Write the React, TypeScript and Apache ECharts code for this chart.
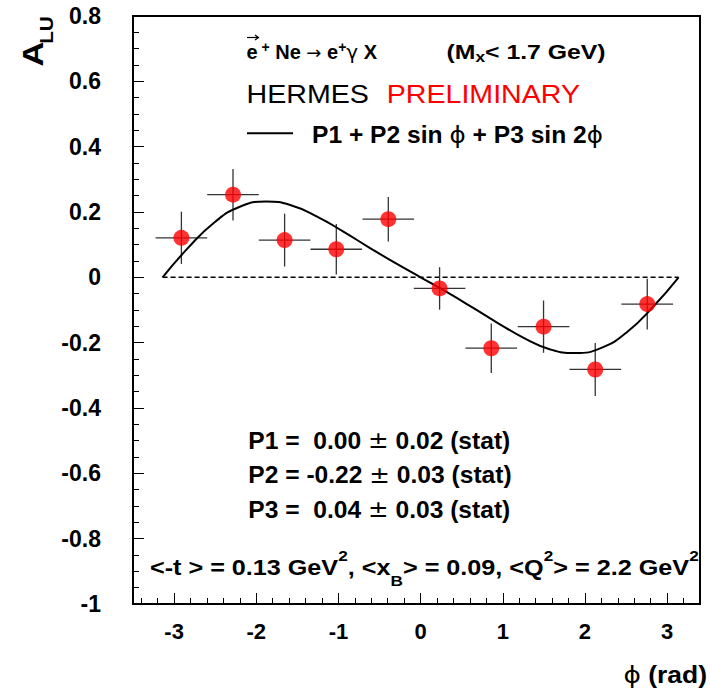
import React, { useEffect, useRef } from 'react';
import * as echarts from 'echarts';

// measured data points (phi in rad, A_LU)
const phiPoints = [-2.911, -2.283, -1.655, -1.026, -0.393, 0.231, 0.86, 1.496, 2.125, 2.758];
const aluPoints = [0.121, 0.253, 0.114, 0.086, 0.178, -0.034, -0.217, -0.151, -0.282, -0.082];
const phiErrors = [0.314, 0.314, 0.314, 0.314, 0.314, 0.314, 0.314, 0.314, 0.314, 0.314];
const aluErrors = [0.08, 0.079, 0.081, 0.077, 0.068, 0.065, 0.076, 0.08, 0.081, 0.078];

// fit curve
const curvePhi = [-3.14, -2.83, -2.51, -2.2, -1.88, -1.57, -1.26, -0.94, -0.63, -0.31, 0, 0.31, 0.63, 0.94, 1.26, 1.57, 1.88, 2.2, 2.51, 2.83, 3.14];
const curveAlu = [0.0, 0.09, 0.168, 0.216, 0.232, 0.22, 0.186, 0.14, 0.092, 0.044, 0, -0.044, -0.092, -0.14, -0.186, -0.22, -0.232, -0.216, -0.168, -0.09, 0.0];

// dashed zero line
const zeroPhi = [-3.14, 3.14];
const zeroAlu = [0, 0];

// axis ticks
const xMajorTicks = [-3, -2, -1, 0, 1, 2, 3];
const xMinorTicks = [-3.4, -3.2, -2.8, -2.6, -2.4, -2.2, -1.8, -1.6, -1.4, -1.2, -0.8, -0.6, -0.4, -0.2, 0.2, 0.4, 0.6, 0.8, 1.2, 1.4, 1.6, 1.8, 2.2, 2.4, 2.6, 2.8, 3.2, 3.4];

const FONT = '"Liberation Sans", Arial, Helvetica, sans-serif';
const SYM = '"DejaVu Sans", "Liberation Sans", sans-serif';

function txt(text: string, x: number, y: number, opts: any = {}) {
  return {
    type: 'text',
    x,
    y,
    scaleX: opts.scaleX ?? 1,
    rotation: opts.rotation ?? 0,
    z: 100,
    style: {
      text,
      fontSize: opts.fontSize ?? 20,
      fontWeight: opts.fontWeight ?? 'bold',
      fontFamily: opts.fontFamily ?? FONT,
      fill: opts.fill ?? '#000',
      align: opts.align ?? 'left',
      verticalAlign: 'middle',
      rich: opts.rich,
    },
  };
}

export default function App() {
  const ref = useRef<HTMLDivElement>(null);

  useEffect(() => {
    if (!ref.current) return;
    const chart = echarts.init(ref.current, undefined, { renderer: 'svg' });

    const pointData = phiPoints.map((p, i) => [p, aluPoints[i]]);
    const errData = phiPoints.map((p, i) => [p, aluPoints[i], phiErrors[i], aluErrors[i]]);
    const curveData = curvePhi.map((p, i) => [p, curveAlu[i]]);
    const zeroData = zeroPhi.map((p, i) => [p, zeroAlu[i]]);

    const mainRich = {
      m: { fontSize: 22, fontWeight: 'bold', fontFamily: FONT, lineHeight: 40, fill: '#000' },
      p: { fontSize: 15, fontWeight: 'bold', fontFamily: FONT, lineHeight: 22, verticalAlign: 'top', fill: '#000' },
      s: { fontSize: 15, fontWeight: 'bold', fontFamily: FONT, lineHeight: 12, verticalAlign: 'bottom', fill: '#000' },
    };
    const titleRich = {
      m: { fontSize: 20, fontWeight: 'bold', fontFamily: FONT, lineHeight: 24, fill: '#000' },
      p: { fontSize: 14, fontWeight: 'bold', fontFamily: FONT, lineHeight: 10, verticalAlign: 'top', fill: '#000' },
      s: { fontSize: 14, fontWeight: 'bold', fontFamily: FONT, lineHeight: 6, verticalAlign: 'bottom', fill: '#000' },
      a: { fontSize: 18, fontWeight: 'normal', fontFamily: SYM, lineHeight: 24, fill: '#000' },
      g: { fontSize: 20, fontWeight: 'normal', fontFamily: SYM, lineHeight: 24, fill: '#000' },
    };
    const statRich = {
      m: { fontSize: 23, fontWeight: 'bold', fontFamily: FONT, fill: '#000' },
      pm: { fontSize: 23, fontWeight: 'normal', fontFamily: SYM, fill: '#000' },
    };
    const legRich = {
      m: { fontSize: 23, fontWeight: 'bold', fontFamily: FONT, fill: '#000' },
      f: { fontSize: 23, fontWeight: 'normal', fontFamily: SYM, fill: '#000' },
    };

    const option: any = {
      animation: false,
      grid: {
        left: 133,
        top: 16,
        width: 567,
        height: 588,
        show: true,
        borderColor: '#000',
        borderWidth: 2,
        containLabel: false,
      },
      xAxis: [
        {
          type: 'value',
          min: -3.5,
          max: 3.4,
          position: 'bottom',
          axisLine: { show: true, onZero: false, lineStyle: { color: '#000', width: 2 } },
          axisTick: { show: true, inside: true, length: 11, customValues: xMajorTicks, lineStyle: { color: '#000', width: 1 } },
          axisLabel: {
            show: true,
            customValues: xMajorTicks,
            margin: 16,
            fontSize: 22,
            fontWeight: 'bold',
            fontFamily: FONT,
            color: '#000',
          },
          splitLine: { show: false },
        },
        {
          type: 'value',
          min: -3.5,
          max: 3.4,
          position: 'bottom',
          axisLine: { show: false, onZero: false },
          axisTick: { show: true, inside: true, length: 6, customValues: xMinorTicks, lineStyle: { color: '#000', width: 1 } },
          axisLabel: { show: false },
          splitLine: { show: false },
        },
      ],
      yAxis: {
        type: 'value',
        min: -1,
        max: 0.8,
        interval: 0.2,
        axisLine: { show: true, onZero: false, lineStyle: { color: '#000', width: 2 } },
        axisTick: { show: true, inside: true, length: 11, lineStyle: { color: '#000', width: 1 } },
        minorTick: { show: true, splitNumber: 4, length: 6, lineStyle: { color: '#000', width: 1 } },
        axisLabel: {
          margin: 32,
          fontSize: 23,
          fontWeight: 'bold',
          fontFamily: FONT,
          color: '#000',
        },
        splitLine: { show: false },
        minorSplitLine: { show: false },
      },
      series: [
        {
          type: 'line',
          xAxisIndex: 0,
          data: zeroData,
          symbol: 'none',
          lineStyle: { color: '#000', width: 1.5, type: [5, 3] },
          z: 2,
        },
        {
          type: 'custom',
          xAxisIndex: 0,
          data: errData,
          z: 3,
          renderItem: (params: any, api: any) => {
            const x = api.value(0);
            const y = api.value(1);
            const ex = api.value(2);
            const ey = api.value(3);
            const l = api.coord([x - ex, y]);
            const r = api.coord([x + ex, y]);
            const t = api.coord([x, y + ey]);
            const b = api.coord([x, y - ey]);
            const st = { stroke: '#333', lineWidth: 1.3 };
            return {
              type: 'group',
              children: [
                { type: 'line', shape: { x1: l[0], y1: l[1], x2: r[0], y2: r[1] }, style: st },
                { type: 'line', shape: { x1: t[0], y1: t[1], x2: b[0], y2: b[1] }, style: st },
              ],
            };
          },
        },
        {
          type: 'line',
          xAxisIndex: 0,
          data: curveData,
          smooth: true,
          symbol: 'none',
          lineStyle: { color: '#000', width: 2 },
          z: 4,
        },
        {
          type: 'scatter',
          xAxisIndex: 0,
          data: pointData,
          symbol: 'circle',
          symbolSize: 16,
          itemStyle: { color: '#ff0000' },
          z: 5,
        },
      ],
      graphic: [
        // y axis title
        txt('A', 32.5, 54, { fontSize: 30, rotation: Math.PI / 2, align: 'center', scaleX: 1.15 }),
        txt('LU', 47, 30, { fontSize: 18, rotation: Math.PI / 2, align: 'center', scaleX: 1.15 }),
        // x axis title
        txt('{f|ϕ}{m| (rad)}', 707, 675, {
          align: 'right',
          scaleX: 1.15,
          rich: {
            m: { fontSize: 23, fontWeight: 'bold', fontFamily: FONT, fill: '#000' },
            f: { fontSize: 23, fontWeight: 'normal', fontFamily: SYM, fill: '#000' },
          },
        }),
        // title line
        { type: 'line', z: 100, shape: { x1: 247, y1: 37.5, x2: 258.5, y2: 37.5 }, style: { stroke: '#000', lineWidth: 1.2 } },
        { type: 'polyline', z: 100, shape: { points: [[255, 35], [258.5, 37.5], [255, 40]] }, style: { stroke: '#000', lineWidth: 1.2, fill: 'none' } },
        txt('{m|e}{p| +}{m| Ne }{a|→}{m| e}{p|+}{g|γ}{m| X}', 246.5, 52, { scaleX: 1.0, rich: titleRich }),
        txt('{m|(M}{s|x}{m|< 1.7 GeV)}', 446.5, 52, { scaleX: 1.24, rich: titleRich }),
        // HERMES PRELIMINARY
        txt('HERMES', 246.5, 94.2, { fontSize: 26, fontWeight: 'normal', scaleX: 1.1 }),
        txt('PRELIMINARY', 386.7, 94.2, { fontSize: 26, fontWeight: 'normal', scaleX: 1.1, fill: '#ff0000' }),
        // legend
        { type: 'line', z: 100, shape: { x1: 247, y1: 133.3, x2: 293, y2: 133.3 }, style: { stroke: '#000', lineWidth: 2 } },
        txt('{m|P1 + P2 sin }{f|ϕ}{m| + P3 sin 2}{f|ϕ}', 312, 135, { scaleX: 1.07, rich: legRich }),
        // fit results
        txt('{m|P1 =  0.00 }{pm|±}{m| 0.02 (stat)}', 248.3, 440.5, { scaleX: 1.07, rich: statRich }),
        txt('{m|P2 = -0.22 }{pm|±}{m| 0.03 (stat)}', 248.3, 475, { scaleX: 1.07, rich: statRich }),
        txt('{m|P3 =  0.04 }{pm|±}{m| 0.03 (stat)}', 248.3, 509.5, { scaleX: 1.07, rich: statRich }),
        // kinematics
        txt('{m|<-t > = 0.13 GeV}{p|2}{m|, <x}{s|B}{m|> = 0.09, <Q}{p|2}{m|> = 2.2 GeV}{p|2}', 150, 567.7, {
          scaleX: 1.145,
          rich: mainRich,
        }),
      ],
    };

    chart.setOption(option);
    return () => chart.dispose();
  }, []);

  return (
    <div
      ref={ref}
      style={{ position: 'absolute', left: 0, top: 0, width: 710, height: 691, background: '#fff' }}
    />
  );
}
